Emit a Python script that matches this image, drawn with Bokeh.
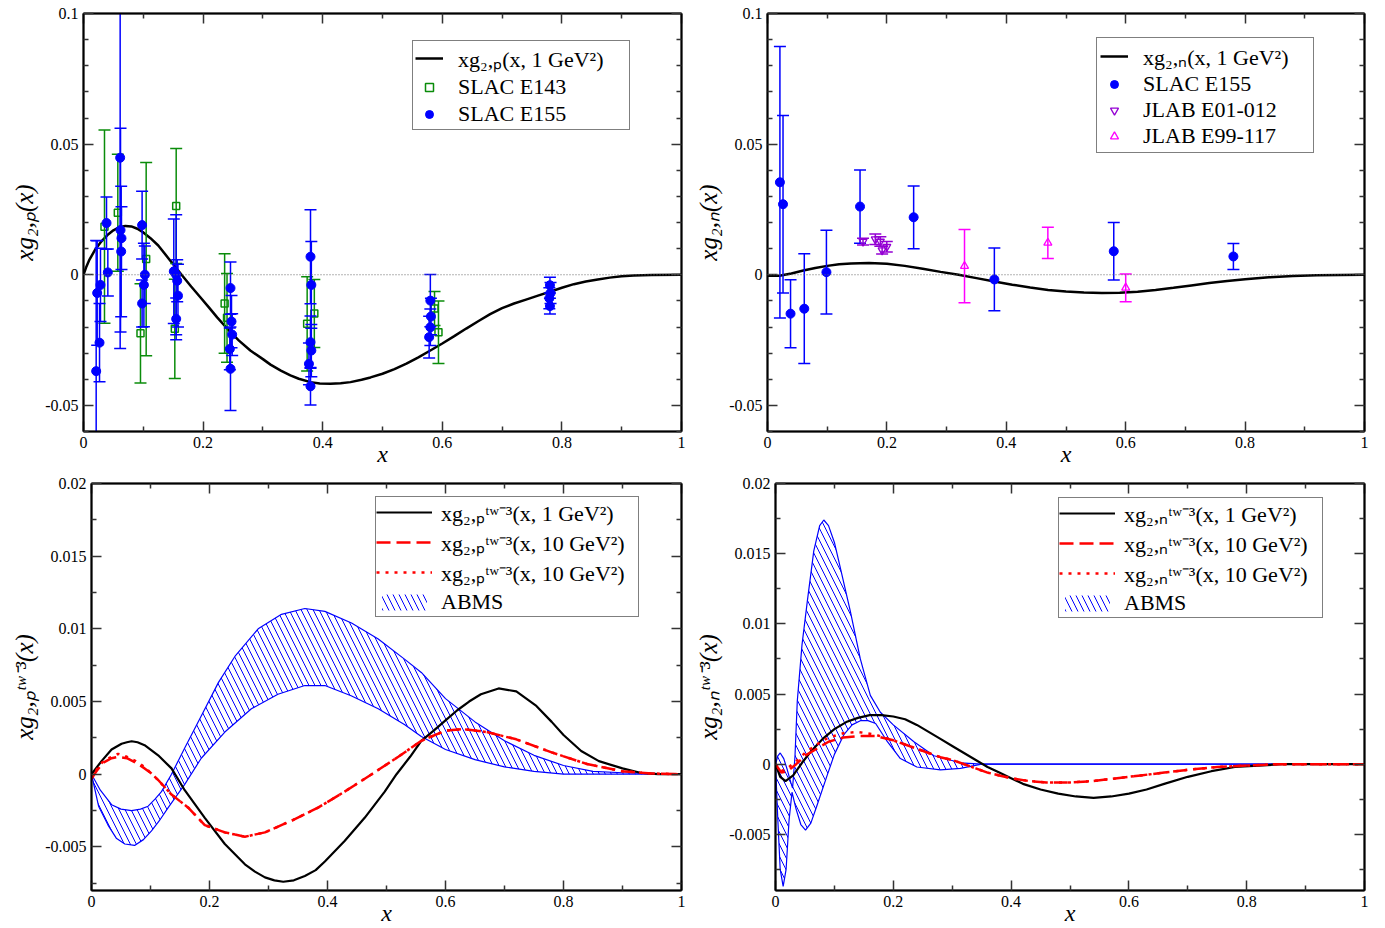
from bokeh.plotting import figure
from bokeh.models import (Range1d, FixedTicker, CustomJSTickFormatter, LinearAxis, Span,
                          Legend, LegendItem)
from bokeh.layouts import column, row
from bokeh.embed import file_html
from bokeh.resources import INLINE

SERIF = "Liberation Serif"
BLUE = "#0000ff"
GREEN = "#0a8c0a"
VIOLET = "#9400d3"
MAGENTA = "#ff00ff"
RED = "#ff0000"

# ---------------- ticks ----------------
X_TICKS = [0, 0.2, 0.4, 0.6, 0.8, 1]
X_MINOR = [0.1, 0.3, 0.5, 0.7, 0.9]
TOP_Y_TICKS = [-0.05, 0, 0.05, 0.1]
TOP_Y_MINOR = [-0.06, -0.04, -0.03, -0.02, -0.01, 0.01, 0.02, 0.03, 0.04,
               0.06, 0.07, 0.08, 0.09]
BOT_Y_TICKS = [-0.005, 0, 0.005, 0.01, 0.015, 0.02]
BOT_Y_MINOR = [-0.0075, -0.0025, 0.0025, 0.0075, 0.0125, 0.0175]

# ---------------- top-left: proton ----------------
gp_x = [0, 0.005, 0.01, 0.02, 0.03, 0.04, 0.05, 0.06, 0.07, 0.08,
        0.09, 0.1, 0.112, 0.125, 0.1455, 0.163, 0.18, 0.1957, 0.21, 0.2235,
        0.2458, 0.26, 0.279, 0.3, 0.3127, 0.33, 0.346, 0.36, 0.3796, 0.395,
        0.413, 0.43, 0.4465, 0.465, 0.48, 0.5, 0.52, 0.54, 0.56, 0.58,
        0.6, 0.62, 0.64, 0.66, 0.68, 0.7, 0.72, 0.74, 0.76, 0.78,
        0.8, 0.82, 0.84, 0.86, 0.88, 0.9, 0.92, 0.95, 1]
gp_y = [0, 0.0032, 0.0058, 0.0098, 0.0128, 0.0152, 0.0170, 0.0182, 0.0187, 0.0185,
        0.0176, 0.0162, 0.0140, 0.0112, 0.0053, 0.0003, -0.0045, -0.0087, -0.0126, -0.0163,
        -0.0220, -0.0252, -0.0290, -0.0323, -0.0344, -0.0367, -0.0385, -0.0398, -0.0411, -0.0416,
        -0.0417, -0.0415, -0.0411, -0.0402, -0.0393, -0.0379, -0.0361, -0.0340, -0.0316, -0.0290,
        -0.0263, -0.0235, -0.0206, -0.0178, -0.0151, -0.0128, -0.0110, -0.0095, -0.0080, -0.0065,
        -0.0050, -0.0036, -0.0026, -0.0018, -0.0011, -0.0006, -0.0003, -0.0001, 0]

e155p_x = [0.0212, 0.0229, 0.0268, 0.0284, 0.0385, 0.0407,
           0.0613, 0.0619, 0.0635, 0.0630,
           0.0980, 0.1026, 0.1010, 0.0980,
           0.1510, 0.1550, 0.1567, 0.1580, 0.1550,
           0.2458, 0.2475, 0.2486, 0.2447, 0.2458,
           0.3796, 0.3810, 0.3796, 0.3810, 0.3770, 0.3796,
           0.5800, 0.5810, 0.5800, 0.5780,
           0.7800, 0.7810, 0.7790, 0.7800]
e155p_y = [-0.0369, -0.0070, -0.0260, -0.0039, 0.0198, 0.0009,
           0.0448, 0.0171, 0.0140, 0.0089,
           0.0190, 0.0000, -0.0039, -0.0110,
           0.0013, 0.0000, -0.0023, -0.0080, -0.0169,
           -0.0051, -0.0179, -0.0229, -0.0284, -0.0360,
           0.0069, -0.0039, -0.0258, -0.0290, -0.0341, -0.0427,
           -0.0099, -0.0160, -0.0201, -0.0239,
           -0.0040, -0.0070, -0.0090, -0.0120]
e155p_err = [0.050, 0.020, 0.015, 0.014, 0.010, 0.009,
             0.073, 0.039, 0.012, 0.025,
             0.013, 0.011, 0.016, 0.009,
             0.020, 0.023, 0.008, 0.012, 0.008,
             0.010, 0.010, 0.008, 0.008, 0.016,
             0.018, 0.0166, 0.010, 0.010, 0.008, 0.0072,
             0.010, 0.007, 0.007, 0.008,
             0.003, 0.004, 0.004, 0.003]

e143_x = [0.0351, 0.0574, 0.0953, 0.1048, 0.1527, 0.1550, 0.2360, 0.2400,
          0.3740, 0.3860, 0.5870, 0.5936]
e143_y = [0.0184, 0.0237, -0.0224, 0.0060, -0.0207, 0.0263, -0.0110, -0.0165,
          -0.0188, -0.0148, -0.0129, -0.0220]
e143_err = [0.037, 0.0224, 0.019, 0.037, 0.019, 0.022, 0.019, 0.017,
            0.018, 0.013, 0.0065, 0.012]

# ---------------- top-right: neutron ----------------
gn_x = [0, 0.02, 0.04, 0.06, 0.08, 0.1, 0.12, 0.14, 0.17, 0.2, 0.23, 0.26, 0.29, 0.32,
        0.35, 0.38, 0.41, 0.44, 0.47, 0.5, 0.53, 0.56, 0.59, 0.62, 0.65, 0.68, 0.71, 0.74,
        0.77, 0.8, 0.84, 0.88, 0.92, 1]
gn_y = [-0.0004, -0.0004, 0.0005, 0.0016, 0.0026, 0.0034, 0.0040, 0.0043, 0.0045, 0.0042,
        0.0034, 0.0023, 0.0011, 0, -0.0013, -0.0026, -0.0038, -0.0049, -0.0058, -0.0064,
        -0.0068, -0.0070, -0.0069, -0.0065, -0.0058, -0.0050, -0.0041, -0.0032, -0.0024,
        -0.0017, -0.0010, -0.0005, -0.0002, 0]

e155n_x = [0.0208, 0.0260, 0.0386, 0.0616, 0.0987, 0.1550, 0.2448, 0.3800, 0.5800, 0.7804]
e155n_y = [0.0354, 0.0270, -0.0149, -0.0130, 0.0010, 0.0261, 0.0220, -0.0018, 0.0090, 0.0070]
e155n_err = [0.052, 0.034, 0.013, 0.021, 0.016, 0.014, 0.012, 0.012, 0.011, 0.005]

e01_x = [0.160, 0.1806, 0.189, 0.192, 0.1998]
e01_y = [0.0127, 0.0136, 0.0127, 0.0094, 0.0107]
e01_err = [0.0013, 0.002, 0.0018, 0.0015, 0.002]

e99_x = [0.330, 0.4696, 0.600]
e99_y = [0.0033, 0.0122, -0.0050]
e99_err = [0.014, 0.006, 0.0053]

# ---------------- bottom-left: proton twist-3 ----------------
tp1_x = [0, 0.017, 0.034, 0.051, 0.06, 0.068, 0.078, 0.09, 0.113, 0.1356,
         0.158, 0.192, 0.226, 0.26, 0.277, 0.294, 0.31, 0.325, 0.343, 0.3616,
         0.38, 0.3955, 0.429, 0.463, 0.497, 0.517, 0.54, 0.559, 0.58, 0.6,
         0.62, 0.64, 0.66, 0.69, 0.72, 0.754, 0.78, 0.8, 0.83, 0.86,
         0.9, 0.93, 0.96, 1]
tp1_y = [0, 0.0009, 0.0017, 0.0021, 0.0022, 0.00227, 0.0022, 0.0020, 0.0013, 0.0004,
         -0.0011, -0.0030, -0.0048, -0.0062, -0.0067, -0.0071, -0.0073, -0.0074, -0.0073, -0.0070,
         -0.0066, -0.0060, -0.0046, -0.0030, -0.0012, 0, 0.0012, 0.0023, 0.0030, 0.0037,
         0.0044, 0.0050, 0.0055, 0.0059, 0.0057, 0.0047, 0.0036, 0.0027, 0.0016, 0.0009,
         0.0004, 0.0001, 0, 0]
tp10_x = [0, 0.01, 0.02, 0.034, 0.045, 0.06, 0.075, 0.09, 0.1, 0.113,
          0.1356, 0.164, 0.192, 0.226, 0.26, 0.294, 0.339, 0.384, 0.429, 0.475,
          0.52, 0.559, 0.6, 0.63, 0.67, 0.72, 0.78, 0.84, 0.9, 0.95, 1]
tp10a_y = [-0.0003, 0.0003, 0.0008, 0.0011, 0.0012, 0.0011, 0.0008, 0.0004, 0.0001, -0.0004,
           -0.0014, -0.0023, -0.0035, -0.0040, -0.0043, -0.0040, -0.0032, -0.0023, -0.0012, 0,
           0.0012, 0.0023, 0.0030, 0.0031, 0.0029, 0.0024, 0.0015, 0.0007, 0.0002, 0.00005, 0]
tp10b_y = [-0.0003, 0.0004, 0.0009, 0.0012, 0.0014, 0.0012, 0.0009, 0.0005, 0.0001, -0.0004,
           -0.0014, -0.0023, -0.0035, -0.0040, -0.0043, -0.0040, -0.0032, -0.0023, -0.0012, 0,
           0.0012, 0.0023, 0.0030, 0.0031, 0.0029, 0.0024, 0.0015, 0.0007, 0.0002, 0.00005, 0]
bp_up_x = [0, 0.015, 0.034, 0.05, 0.068, 0.083, 0.096, 0.108, 0.1186, 0.1356,
           0.158, 0.186, 0.215, 0.243, 0.2825, 0.322, 0.3616, 0.3955, 0.4407, 0.486,
           0.531, 0.559, 0.6, 0.65, 0.7, 0.75, 0.8, 0.85, 0.9, 1]
bp_up_y = [0, -0.0011, -0.0021, -0.0024, -0.0025, -0.0024, -0.0022, -0.0017, -0.0012, 0,
           0.0018, 0.0040, 0.0063, 0.0081, 0.0100, 0.0110, 0.0114, 0.0112, 0.0104, 0.0093,
           0.0079, 0.0070, 0.0052, 0.0036, 0.0023, 0.0013, 0.0006, 0.0002, 0.0001, 0]
bp_lo_x = [0, 0.012, 0.028, 0.042, 0.0565, 0.073, 0.088, 0.1017, 0.115, 0.13,
           0.158, 0.186, 0.226, 0.271, 0.316, 0.3616, 0.3955, 0.44, 0.486, 0.531,
           0.559, 0.6, 0.65, 0.7, 0.75, 0.8, 1]
bp_lo_y = [0, -0.0022, -0.0035, -0.0044, -0.0048, -0.0049, -0.0045, -0.0039, -0.0032, -0.0023,
           -0.0007, 0.0011, 0.0029, 0.0045, 0.0055, 0.0061, 0.0061, 0.0054, 0.0045, 0.0034,
           0.0026, 0.0017, 0.0010, 0.0005, 0.0002, 0, 0]

# ---------------- bottom-right: neutron twist-3 ----------------
tn1_x = [0, 0.008, 0.017, 0.03, 0.045, 0.06, 0.08, 0.1, 0.12, 0.14, 0.16, 0.18, 0.2,
         0.22, 0.24, 0.26, 0.28, 0.3, 0.32, 0.34, 0.36, 0.38, 0.4, 0.42, 0.45, 0.48, 0.51,
         0.54, 0.57, 0.6, 0.63, 0.66, 0.7, 0.74, 0.78, 0.82, 0.86, 1]
tn1_y = [0, -0.0009, -0.0012, -0.0008, 0.0001, 0.0009, 0.0018, 0.0025, 0.0030, 0.0033,
         0.0035, 0.0035, 0.0034, 0.0032, 0.0028, 0.0023, 0.0018, 0.0013, 0.0008, 0.0003,
         -0.0002, -0.0006, -0.0010, -0.0014, -0.0018, -0.0021, -0.0023, -0.0024, -0.0023,
         -0.0021, -0.0018, -0.0014, -0.0009, -0.0005, -0.0002, -0.0001, 0, 0]
tn10_x = [0, 0.01, 0.02, 0.035, 0.05, 0.07, 0.09, 0.115, 0.14, 0.17, 0.2, 0.22, 0.24, 0.26,
          0.28, 0.3, 0.32, 0.34, 0.36, 0.38, 0.4, 0.43, 0.46, 0.5, 0.54, 0.58, 0.62, 0.66,
          0.7, 0.75, 0.8, 0.85, 1]
tn10a_y = [0, -0.0006, -0.0005, 0, 0.0006, 0.0011, 0.0016, 0.0019, 0.0020, 0.0020, 0.0017,
           0.0014, 0.0011, 0.0008, 0.0005, 0.0003, 0.0000, -0.0003, -0.0006, -0.0008, -0.0010,
           -0.0012, -0.0013, -0.0013, -0.0012, -0.0010, -0.0008, -0.0006, -0.0004, -0.0002,
           -0.0001, 0, 0]
tn10b_y = [0, -0.0005, -0.0003, 0.0002, 0.0008, 0.0014, 0.0019, 0.0022, 0.0023, 0.0021,
           0.0017, 0.0014, 0.0011, 0.0008, 0.0005, 0.0003, 0.0000, -0.0003, -0.0006, -0.0008,
           -0.0010, -0.0012, -0.0013, -0.0013, -0.0012, -0.0010, -0.0008, -0.0006, -0.0004,
           -0.0002, -0.0001, 0, 0]
bn_up_x = [0, 0.004, 0.008, 0.014, 0.02, 0.026, 0.029, 0.033, 0.037, 0.045, 0.054, 0.065,
           0.075, 0.082, 0.09, 0.1, 0.11, 0.127, 0.144, 0.161, 0.178, 0.2, 0.235, 0.269,
           0.314, 0.35, 1]
bn_up_y = [0, 0.0006, 0.0008, 0.0004, -0.0004, -0.0013, -0.0017, 0.0005, 0.0045, 0.0085,
           0.0116, 0.0152, 0.0170, 0.0174, 0.0170, 0.0158, 0.0140, 0.0109, 0.0075, 0.0049,
           0.0037, 0.0028, 0.0016, 0.0006, 0.0001, 0, 0]
bn_lo_x = [0, 0.004, 0.008, 0.013, 0.018, 0.023, 0.028, 0.035, 0.043, 0.051, 0.06, 0.07,
           0.0877, 0.1, 0.116, 0.13, 0.144, 0.157, 0.17, 0.19, 0.212, 0.24, 0.28, 0.314,
           0.35, 1]
bn_lo_y = [0, -0.004, -0.0075, -0.0087, -0.0075, -0.004, -0.002, -0.0032, -0.0043,
           -0.0047, -0.0042, -0.0030, -0.0008, 0.0007, 0.0021, 0.0028, 0.0031, 0.0031,
           0.0029, 0.0016, 0.0004, -0.0002, -0.0004, -0.0003, 0, 0]


def style_axis(ax, show_labels):
    ax.axis_line_width = 2
    ax.axis_line_color = "black"
    ax.major_tick_in = 10
    ax.major_tick_out = 0
    ax.minor_tick_in = 5
    ax.minor_tick_out = 0
    ax.major_tick_line_width = 1.5
    ax.minor_tick_line_width = 1.5
    ax.major_tick_line_color = "#333333"
    ax.minor_tick_line_color = "#333333"
    ax.major_label_text_font = SERIF
    ax.major_label_text_color = "black"
    ax.axis_label_text_font = SERIF
    ax.axis_label_text_font_style = "italic"
    ax.axis_label_text_color = "black"
    if show_labels:
        ax.major_label_text_font_size = "16px"
        ax.major_label_standoff = 5
    else:
        ax.major_label_text_font_size = "0px"
        ax.major_label_standoff = 0
        ax.formatter = CustomJSTickFormatter(code="return '';")


def make_panel(width, height, borders, y_range, y_ticks, y_minor, y_label):
    left, right, top, bottom = borders
    p = figure(width=width, height=height, x_range=Range1d(0, 1),
               y_range=Range1d(*y_range), output_backend="svg", toolbar_location=None,
               min_border_left=left, min_border_right=right, min_border_top=top,
               min_border_bottom=bottom, x_axis_label="x", y_axis_label=y_label)
    p.grid.visible = False
    p.outline_line_color = "black"
    p.outline_line_width = 1.5
    p.background_fill_color = "white"
    p.border_fill_color = "white"
    p.add_layout(LinearAxis(), "above")
    p.add_layout(LinearAxis(), "right")
    fmt = CustomJSTickFormatter(code="return tick.toString();")
    for ax in p.xaxis:
        ax.ticker = FixedTicker(ticks=X_TICKS, minor_ticks=X_MINOR)
    for ax in p.yaxis:
        ax.ticker = FixedTicker(ticks=y_ticks, minor_ticks=y_minor)
    style_axis(p.below[0], True)
    style_axis(p.left[0], True)
    style_axis(p.above[0], False)
    style_axis(p.right[0], False)
    p.below[0].formatter = fmt
    p.left[0].formatter = fmt
    p.below[0].axis_label_text_font_size = "24px"
    p.below[0].axis_label_standoff = -10
    p.left[0].axis_label_text_font_size = "25px"
    p.left[0].axis_label_standoff = 4
    return p


def errorbars(p, xs, ys, es, color):
    lo = [y - e for y, e in zip(ys, es)]
    hi = [y + e for y, e in zip(ys, es)]
    p.segment(x0=xs, y0=lo, x1=xs, y1=hi, line_color=color, line_width=1.5)
    p.scatter(list(xs) + list(xs), hi + lo, marker="dash", size=12,
              line_color=color, line_width=1.5)


def add_band(p, up_x, up_y, lo_x, lo_y):
    r = p.patch(up_x + lo_x[::-1], up_y + lo_y[::-1], fill_color=None, line_alpha=0,
                hatch_pattern="left_diagonal_line", hatch_color=BLUE,
                hatch_scale=12, hatch_weight=1)
    p.line(up_x, up_y, line_color=BLUE, line_width=1.2)
    p.line(lo_x, lo_y, line_color=BLUE, line_width=1.2)
    return r


def add_legend(p, items, loc, glyph_width, label_width, label_height, padding, standoff):
    lg = Legend(items=[LegendItem(label=l, renderers=[r]) for l, r in items],
                location=loc, orientation="vertical")
    lg.border_line_color = "black"
    lg.border_line_width = 1.5
    lg.background_fill_color = "white"
    lg.background_fill_alpha = 1
    lg.padding = padding
    lg.spacing = 0
    lg.margin = 0
    lg.glyph_width = glyph_width
    lg.glyph_height = 20
    lg.label_width = label_width
    lg.label_height = label_height
    lg.label_standoff = standoff
    lg.label_text_font = SERIF
    lg.label_text_font_size = "22px"
    lg.label_text_color = "black"
    lg.label_text_baseline = "middle"
    p.add_layout(lg)


# ================= TOP LEFT =================
tl = make_panel(691, 471, (83, 10, 13, 40), (-0.06, 0.1), TOP_Y_TICKS, TOP_Y_MINOR,
                "xg₂,ₚ(x)")
tl.add_layout(Span(location=0, dimension="width", line_color="#666666",
                   line_dash="1 2", line_width=1))
r_gp = tl.line(gp_x, gp_y, line_color="black", line_width=2.5)
errorbars(tl, e143_x, e143_y, e143_err, GREEN)
r_e143 = tl.scatter(e143_x, e143_y, marker="square", size=7, fill_color=None,
                    line_color=GREEN, line_width=1.5)
errorbars(tl, e155p_x, e155p_y, e155p_err, BLUE)
r_e155p = tl.scatter(e155p_x, e155p_y, marker="circle", size=9, fill_color=BLUE,
                     line_color=BLUE)
add_legend(tl, [("xg₂,ₚ(x, 1 GeV²)", r_gp), ("SLAC E143", r_e143), ("SLAC E155", r_e155p)],
           (329, 301), 28, 169, 27, 2, 15)

# ================= TOP RIGHT =================
tr = make_panel(694, 471, (76, 21, 13, 40), (-0.06, 0.1), TOP_Y_TICKS, TOP_Y_MINOR,
                "xg₂,ₙ(x)")
tr.add_layout(Span(location=0, dimension="width", line_color="#666666",
                   line_dash="1 2", line_width=1))
r_gn = tr.line(gn_x, gn_y, line_color="black", line_width=2.5)
errorbars(tr, e155n_x, e155n_y, e155n_err, BLUE)
r_e155n = tr.scatter(e155n_x, e155n_y, marker="circle", size=9, fill_color=BLUE,
                     line_color=BLUE)
errorbars(tr, e01_x, e01_y, e01_err, VIOLET)
r_e01 = tr.scatter(e01_x, e01_y, marker="inverted_triangle", size=8, fill_color=None,
                   line_color=VIOLET, line_width=1.3)
errorbars(tr, e99_x, e99_y, e99_err, MAGENTA)
r_e99 = tr.scatter(e99_x, e99_y, marker="triangle", size=8, fill_color=None,
                   line_color=MAGENTA, line_width=1.3)
add_legend(tr, [("xg₂,ₙ(x, 1 GeV²)", r_gn), ("SLAC E155", r_e155n),
                ("JLAB E01-012", r_e01), ("JLAB E99-117", r_e99)],
           (329, 278), 28, 167, 26, 3, 15)

# ================= BOTTOM LEFT =================
bl = make_panel(691, 457, (91, 10, 12, 36), (-0.008, 0.02), BOT_Y_TICKS, BOT_Y_MINOR,
                "xg₂,ₚᵗʷ⁻³(x)")
r_bpband = add_band(bl, bp_up_x, bp_up_y, bp_lo_x, bp_lo_y)
r_tp1 = bl.line(tp1_x, tp1_y, line_color="black", line_width=2.2)
r_tp10a = bl.line(tp10_x, tp10a_y, line_color=RED, line_width=2.5, line_dash="14 6")
r_tp10b = bl.line(tp10_x, tp10b_y, line_color=RED, line_width=2.5, line_dash="3 6")
add_legend(bl, [("xg₂,ₚᵗʷ⁻³(x, 1 GeV²)", r_tp1), ("xg₂,ₚᵗʷ⁻³(x, 10 GeV²)", r_tp10a),
                ("xg₂,ₚᵗʷ⁻³(x, 10 GeV²)", r_tp10b), ("ABMS", r_bpband)],
           (284, 273), 56, 197, 29, 0, 9)

# ================= BOTTOM RIGHT =================
br = make_panel(694, 457, (84, 21, 12, 36), (-0.009, 0.02), BOT_Y_TICKS, BOT_Y_MINOR,
                "xg₂,ₙᵗʷ⁻³(x)")
r_bnband = add_band(br, bn_up_x, bn_up_y, bn_lo_x, bn_lo_y)
r_tn1 = br.line(tn1_x, tn1_y, line_color="black", line_width=2.2)
r_tn10a = br.line(tn10_x, tn10a_y, line_color=RED, line_width=2.5, line_dash="14 6")
r_tn10b = br.line(tn10_x, tn10b_y, line_color=RED, line_width=2.5, line_dash="3 6")
add_legend(br, [("xg₂,ₙᵗʷ⁻³(x, 1 GeV²)", r_tn1), ("xg₂,ₙᵗʷ⁻³(x, 10 GeV²)", r_tn10a),
                ("xg₂,ₙᵗʷ⁻³(x, 10 GeV²)", r_tn10b), ("ABMS", r_bnband)],
           (283, 272), 56, 198, 29, 0, 9)

layout = column(row(tl, tr), row(bl, br))
open("out.html", "w").write(file_html(layout, INLINE))
